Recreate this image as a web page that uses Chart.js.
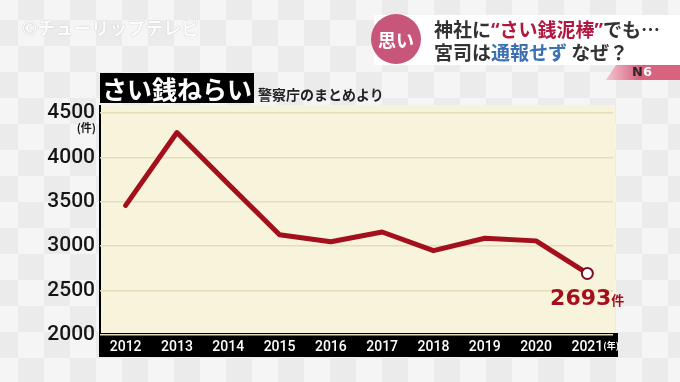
<!DOCTYPE html>
<html>
<head>
<meta charset="utf-8">
<script src="https://cdn.jsdelivr.net/npm/chart.js@4"></script>
<style>
  html, body { margin: 0; padding: 0; }
  body {
    width: 680px; height: 382px; overflow: hidden; position: relative;
    font-family: "Noto Sans CJK JP", "Noto Sans", sans-serif;
    background: repeating-conic-gradient(#ebebeb 0 25%, #f5f5f5 0 50%) -8px -6px / 52px 52px;
  }
  #wrap { position: absolute; left: 0; top: 0; width: 680px; height: 382px; }
  .ov { position: absolute; white-space: nowrap; z-index: 2; }
  #mark { left: 22px; top: 14px; font-size: 18px; font-weight: 700; color: rgba(255,255,255,0.95);
          text-shadow: 0 0 1px #c4c4c4, 0 0 1px #c4c4c4; }
  #hdr { left: 374px; top: 15px; width: 306px; height: 50px; background: rgba(255,255,255,0.97); z-index: 1; }
  #tab { left: 606px; top: 65px; width: 74px; height: 15px; z-index: 1;
         background: linear-gradient(90deg, #f2c6cf, #d8637f 45%);
         clip-path: polygon(10px 0, 100% 0, 100% 100%, 0 100%); }
  #n6 { left: 632px; top: 64px; font: 900 13px "DejaVu Sans", sans-serif; color: #2a2a2a; line-height: 16px; }
  #n6 span { color: #fff; }
  #circ { left: 371px; top: 14px; width: 50px; height: 50px; border-radius: 50%; background: #c8567a;
          color: #fff; font-size: 18px; font-weight: 700; text-align: center; line-height: 50px; }
  .hl { left: 434px; font-size: 19px; font-weight: 700; color: #333; }
  #l1 { top: 15px; }
  #l2 { top: 38px; }
  .q { font-family: "Noto Sans", sans-serif; }
  .red { color: #b3173f; }
  .blue { color: #3d6fb3; }
  #ttl { left: 100px; top: 73px; width: 154px; height: 30px; background: #000; color: #fff;
         font-size: 25px; font-weight: 700; line-height: 30px; padding-left: 2px; box-sizing: border-box; }
  #sub { left: 258px; top: 86px; font-size: 14px; font-weight: 700; color: #222; line-height: 16px; }
</style>
</head>
<body>
<div class="ov" id="mark">©チューリップテレビ</div>
<div class="ov" id="hdr"></div>
<div class="ov" id="tab"></div>
<div class="ov" id="n6">N<span>6</span></div>
<div class="ov" id="circ">思い</div>
<div class="ov hl" id="l1">神社に<span class="red"><span class="q">“</span>さい銭泥棒<span class="q">”</span></span>でも…</div>
<div class="ov hl" id="l2">宮司は<span class="blue">通報せず</span> なぜ？</div>
<div class="ov" id="ttl">さい銭ねらい</div>
<div class="ov" id="sub">警察庁のまとめより</div>
<div id="wrap"><canvas id="c"></canvas></div>
<script>
// cases per year (警察庁のまとめ)
const years = ['2012', '2013', '2014', '2015', '2016', '2017', '2018', '2019', '2020', '2021'];
const cases = [3460, 4280, 3700, 3130, 3050, 3160, 2950, 3090, 3060, 2693];
const yMin = 2000;
const yMax = 4500;
const yStep = 500;

const RED = '#a3101c';
const last = cases.length - 1;

// cream panel, black year strip, left axis line, and the small unit labels
const panel = {
  id: 'panel',
  beforeDraw(chart) {
    const { ctx, chartArea: a } = chart;
    ctx.save();
    ctx.fillStyle = '#f8f4dc';
    ctx.fillRect(a.left, a.top - 8, a.right - a.left + 2, a.bottom - a.top + 8);
    ctx.fillStyle = '#000';
    ctx.fillRect(a.left - 1, a.bottom - 2, a.right - a.left + 6, 24);
    ctx.fillRect(a.left - 1, a.top - 8, 2, a.bottom - a.top + 30);
    ctx.restore();
  },
  afterDraw(chart) {
    const { ctx, chartArea: a } = chart;
    const pt = chart.getDatasetMeta(0).data[last];
    ctx.save();
    ctx.fillStyle = '#151515';
    ctx.font = '700 11px "Noto Sans CJK JP"';
    ctx.textAlign = 'right';
    ctx.textBaseline = 'middle';
    ctx.fillText('(件)', a.left - 4, chart.scales.y.getPixelForValue(yMax) + 15);

    ctx.fillStyle = '#fff';
    ctx.font = '700 9px "Noto Sans CJK JP"';
    ctx.textAlign = 'left';
    ctx.fillText('(年)', pt.x + 16, a.bottom + 11);

    ctx.fillStyle = RED;
    ctx.textBaseline = 'alphabetic';
    ctx.textAlign = 'right';
    ctx.font = '700 22px "DejaVu Sans"';
    ctx.fillText(String(cases[last]), pt.x + 24, pt.y + 32);
    ctx.textAlign = 'left';
    ctx.font = '700 13px "Noto Sans CJK JP"';
    ctx.fillText('件', pt.x + 24, pt.y + 32);
    ctx.restore();
  }
};

new Chart(document.getElementById('c'), {
  type: 'line',
  data: {
    labels: years,
    datasets: [{
      data: cases,
      borderColor: RED,
      borderWidth: 5,
      tension: 0,
      borderJoinStyle: 'round',
      borderCapStyle: 'round',
      pointRadius: (c) => (c.dataIndex === last ? 5.5 : 0),
      pointBackgroundColor: '#fff',
      pointBorderColor: '#7a0d2a',
      pointBorderWidth: 2,
    }],
  },
  options: {
    responsive: true,
    maintainAspectRatio: false,
    animation: false,
    layout: { padding: { top: 113, right: 67, left: 0, bottom: 0 } },
    plugins: { legend: { display: false }, tooltip: { enabled: false } },
    scales: {
      x: {
        offset: true,
        grid: { display: false, drawTicks: false },
        border: { display: false },
        ticks: {
          color: '#fff',
          font: { family: 'Roboto', size: 14, weight: '500' },
          padding: 4,
          maxRotation: 0,
          autoSkip: false,
        },
        afterFit: (s) => { s.height = 47; },
      },
      y: {
        min: yMin,
        max: yMax,
        grid: { color: '#e4dcbb', lineWidth: 1.5, drawTicks: false },
        border: { display: false },
        ticks: {
          stepSize: yStep,
          color: '#151515',
          font: { family: 'Roboto', size: 21, weight: '500' },
          padding: 5,
          callback: (v) => String(v),
        },
        afterFit: (s) => { s.width = 100; },
      },
    },
  },
  plugins: [panel],
});
</script>
</body>
</html>
